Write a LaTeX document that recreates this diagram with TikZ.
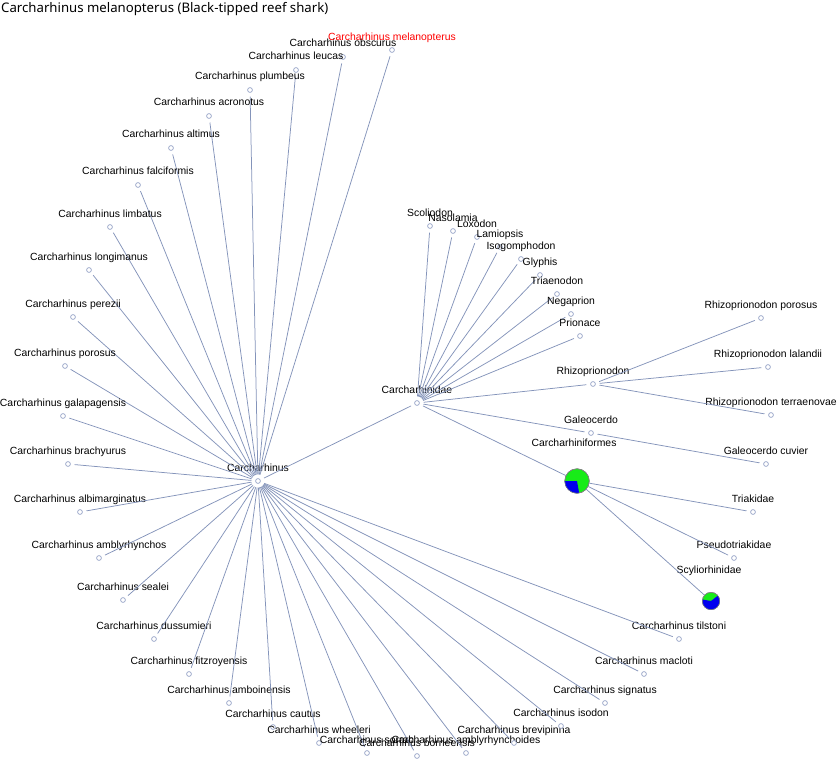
\documentclass[tikz,border=0pt]{standalone}
\usepackage{fontspec}
\setmainfont{Liberation Sans}
\newfontfamily\titlefont{Noto Sans}
\usetikzlibrary{positioning, calc}
\definecolor{edgecol}{RGB}{132,148,186}
\definecolor{dotcol}{RGB}{160,172,204}
\definecolor{piegreen}{RGB}{24,236,24}
\definecolor{pieblue}{RGB}{0,0,238}

\begin{document}
\begin{tikzpicture}
    [x=1pt, y=-1pt,
     dot/.style={circle, draw=dotcol, fill=white, line width=0.8pt, inner sep=0pt, minimum size=4.8pt, outer sep=4.2pt},
     lbl/.style={anchor=base, inner sep=0pt, font=\fontsize{10.4}{12}\selectfont},
     edge/.style={draw=edgecol, line width=0.75pt},
     pie/.style={circle, draw=gray, fill=piegreen, inner sep=0pt, line width=0.5pt}]
    \useasboundingbox (0,0) rectangle (838,773);
    \node[anchor=base west, inner sep=0pt, font=\titlefont\fontsize{13.2}{15}\selectfont] (title) at (1,13)
      {Carcharhinus melanopterus (Black-tipped reef shark)};

    % genus Carcharhinus
    \node[dot] (carcharhinus) at (258,481) {};
    \node[lbl] (carcharhinus-l) at ([yshift=10pt]carcharhinus.center) {Carcharhinus};

    \node[dot] (melanopterus) at (392,50) {};
    \node[lbl, text=red] (melanopterus-l) at ([yshift=9pt]melanopterus.center) {Carcharhinus melanopterus};
    \draw[edge] (carcharhinus) -- (melanopterus);

    \foreach \n/\x/\y in {obscurus/343/57, leucas/296/70, plumbeus/250/90, acronotus/209/116,
        altimus/171/148, falciformis/138/185, limbatus/110/227, longimanus/89/270,
        perezii/73/317, porosus/65/366, galapagensis/63/416, brachyurus/68/464,
        albimarginatus/80/512, amblyrhynchos/99/558, sealei/123/600, dussumieri/154/639,
        fitzroyensis/189/674, amboinensis/229/703, cautus/273/727, wheeleri/319/743,
        sorrah/367/753, borneensis/417/756, amblyrhynchoides/466/753, brevipinna/514/743,
        isodon/561/726, signatus/605/703, macloti/644/674, tilstoni/679/639}
      {\node[dot] (\n) at (\x,\y) {};
       \node[lbl] (\n-l) at ([yshift=10pt]\n.center) {Carcharhinus \n};
       \draw[edge] (carcharhinus) -- (\n);}

    % family Carcharhinidae
    \node[dot] (carcharhinidae) at (417,403) {};
    \node[lbl] (carcharhinidae-l) at ([yshift=10pt]carcharhinidae.center) {Carcharhinidae};
    \draw[edge] (carcharhinus) -- (carcharhinidae);

    \foreach \n/\x/\y/\t in {scoliodon/430/226/Scoliodon, nasolamia/453/231/Nasolamia,
        loxodon/477/237/Loxodon, lamiopsis/500/247/Lamiopsis, isogomphodon/521/259/Isogomphodon,
        glyphis/540/275/Glyphis, triaenodon/557/294/Triaenodon, negaprion/571/314/Negaprion,
        prionace/580/336/Prionace, rhizoprionodon/593/384/Rhizoprionodon,
        galeocerdo/591/433/Galeocerdo}
      {\node[dot] (\n) at (\x,\y) {};
       \node[lbl] (\n-l) at ([yshift=10pt]\n.center) {\t};
       \draw[edge] (carcharhinidae) -- (\n);}

    \foreach \n/\x/\y in {porosus/761/318, lalandii/768/367, terraenovae/771/415}
      {\node[dot] (r-\n) at (\x,\y) {};
       \node[lbl] (r-\n-l) at ([yshift=10pt]r-\n.center) {Rhizoprionodon \n};
       \draw[edge] (rhizoprionodon) -- (r-\n);}

    \node[dot] (cuvier) at (766,464) {};
    \node[lbl] (cuvier-l) at ([yshift=10pt]cuvier.center) {Galeocerdo cuvier};
    \draw[edge] (galeocerdo) -- (cuvier);

    % order Carcharhiniformes
    \node[pie, minimum size=24.6pt] (carcharhiniformes) at (577,481) {};
    \fill[pieblue] (carcharhiniformes.center) -- ++(180:12.3pt) arc[start angle=180, end angle=280, radius=12.3pt] -- cycle;
    \draw[gray, line width=0.5pt] (carcharhiniformes.center) circle[radius=12.3pt];
    \node[lbl] (carcharhiniformes-l) at (574,446) {Carcharhiniformes};
    \draw[edge] (carcharhinidae) -- (carcharhiniformes);

    \node[pie, minimum size=17.4pt] (scyliorhinidae) at (711,601) {};
    \fill[pieblue] (scyliorhinidae.center) -- ++(170:8.7pt) arc[start angle=170, end angle=398, radius=8.7pt] -- cycle;
    \draw[gray, line width=0.5pt] (scyliorhinidae.center) circle[radius=8.7pt];
    \node[lbl] (scyliorhinidae-l) at (709,573) {Scyliorhinidae};
    \draw[edge] (carcharhiniformes) -- (scyliorhinidae);

    \foreach \n/\x/\y/\t in {triakidae/753/512/Triakidae, pseudotriakidae/734/558/Pseudotriakidae}
      {\node[dot] (\n) at (\x,\y) {};
       \node[lbl] (\n-l) at ([yshift=10pt]\n.center) {\t};
       \draw[edge] (carcharhiniformes) -- (\n);}
  \end{tikzpicture}
\end{document}
